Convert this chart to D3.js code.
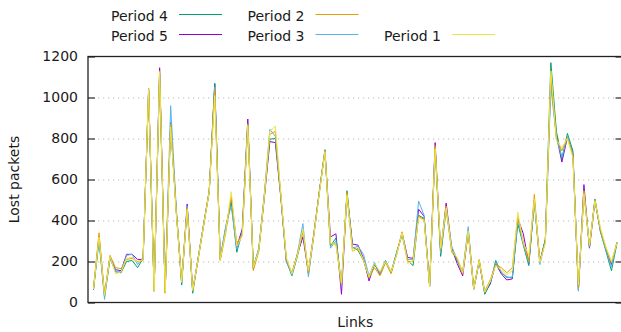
<!DOCTYPE html>
<html>
<head>
<meta charset="utf-8">
<script src="https://cdn.jsdelivr.net/npm/d3@7"></script>
<style>
    body { margin: 0; background: #fff; }
    svg text { font-family: "DejaVu Sans", sans-serif; font-size: 14px; fill: #1a1a1a; }
</style>
</head>
<body>
<div id="chart"></div>
<script>

// Values, one per link (links 1..96)
const period1 = [65, 320, 35, 225, 140, 150, 215, 220, 195, 210, 1040, 55, 1125, 50, 855, 440, 100, 455, 60, 215,
    380, 540, 1010, 210, 350, 540, 275, 325, 862, 170, 255, 520, 835, 860, 530, 220, 140, 230, 358, 155,
    330, 535, 735, 290, 280, 95, 525, 250, 270, 205, 125, 190, 150, 200, 150, 230, 340, 190, 205, 415,
    400, 80, 750, 265, 460, 255, 220, 145, 350, 65, 205, 50, 105, 180, 160, 135, 155, 440, 290, 230,
    505, 195, 290, 1130, 790, 755, 800, 705, 85, 530, 280, 495, 365, 270, 200, 290];
const period2 = [70, 340, 40, 230, 170, 165, 210, 215, 200, 205, 1045, 60, 1130, 45, 870, 450, 105, 460, 60, 210,
    375, 545, 1040, 205, 340, 520, 290, 330, 870, 155, 250, 515, 820, 835, 520, 210, 145, 235, 345, 145,
    335, 540, 740, 285, 285, 85, 535, 250, 265, 210, 120, 170, 130, 195, 140, 235, 345, 200, 200, 420,
    405, 80, 765, 255, 470, 245, 215, 140, 345, 70, 210, 55, 110, 185, 170, 145, 170, 420, 295, 200,
    528, 200, 295, 1110, 800, 740, 805, 715, 70, 545, 275, 500, 355, 265, 195, 295];
const period3 = [75, 310, 15, 220, 155, 150, 230, 235, 185, 220, 1035, 60, 1115, 55, 960, 470, 95, 470, 55, 220,
    385, 535, 1050, 215, 375, 470, 260, 340, 870, 175, 265, 530, 845, 810, 515, 200, 135, 240, 385, 125,
    335, 540, 745, 265, 300, 80, 530, 265, 275, 235, 130, 195, 140, 205, 150, 240, 335, 210, 210, 495,
    425, 85, 760, 240, 465, 275, 210, 150, 370, 70, 200, 50, 100, 195, 150, 120, 125, 405, 285, 195,
    490, 185, 300, 1050, 805, 710, 810, 720, 55, 540, 270, 505, 345, 255, 175, 295];
const period4 = [65, 300, 30, 215, 150, 145, 200, 205, 170, 215, 1030, 58, 1120, 55, 880, 450, 85, 465, 45, 220,
    380, 540, 1070, 215, 365, 490, 245, 345, 875, 170, 260, 525, 797, 800, 520, 205, 130, 225, 350, 140,
    330, 545, 745, 275, 315, 85, 545, 270, 255, 205, 120, 185, 145, 205, 145, 245, 330, 205, 180, 425,
    410, 80, 755, 225, 455, 260, 205, 145, 355, 65, 205, 40, 95, 205, 145, 125, 120, 385, 280, 180,
    495, 195, 310, 1170, 835, 700, 825, 740, 65, 545, 270, 505, 345, 250, 155, 290];
const period5 = [62, 325, 35, 225, 160, 155, 235, 235, 210, 210, 1040, 55, 1145, 50, 875, 455, 100, 480, 60, 215,
    385, 545, 1065, 210, 360, 510, 270, 360, 895, 165, 260, 510, 785, 780, 510, 200, 140, 235, 320, 150,
    340, 545, 735, 320, 335, 40, 530, 285, 280, 215, 105, 190, 135, 200, 145, 235, 340, 220, 215, 455,
    420, 80, 780, 245, 485, 265, 190, 130, 345, 65, 200, 45, 90, 190, 140, 110, 115, 410, 335, 190,
    500, 200, 305, 1090, 815, 685, 805, 725, 60, 575, 265, 495, 350, 260, 185, 290];

const yTicks = [0, 200, 400, 600, 800, 1000, 1200];

// drawing order (gnuplot plots them one after the other, Period 1 ends up on top)
const series = [
    { name: "Period 5", values: period5, color: "#9400d3" },
    { name: "Period 4", values: period4, color: "#009e73" },
    { name: "Period 3", values: period3, color: "#56b4e9" },
    { name: "Period 2", values: period2, color: "#e69f00" },
    { name: "Period 1", values: period1, color: "#f0e442" }
];

// legend is filled column by column, two rows per column (one empty slot)
const legendOrder = ["Period 4", "Period 5", "Period 2", "Period 3", null, "Period 1"];

const margin = { top: 56.5, right: -1.5, bottom: 29.5, left: 88 };
const totalWidth = 621, totalHeight = 332;
const width = totalWidth - margin.left - margin.right;
const height = totalHeight - margin.top - margin.bottom;

const svg = d3.select("#chart").append("svg")
    .attr("width", totalWidth)
    .attr("height", totalHeight)
    .style("display", "block");

const g = svg.append("g")
    .attr("transform", "translate(" + margin.left + "," + margin.top + ")");

const nLinks = period1.length;

const x = d3.scaleLinear()
    .domain([0, nLinks + 1])
    .range([0, width]);

const y = d3.scaleLinear()
    .domain([0, 1200])
    .range([height, 0]);

// dotted grid
g.append("g")
    .attr("class", "grid")
    .selectAll("line")
    .data(yTicks.filter(d => d > 0 && d < 1200))
    .enter().append("line")
    .attr("x1", 0)
    .attr("x2", width)
    .attr("y1", d => Math.round(y(d)) + 0.5)
    .attr("y2", d => Math.round(y(d)) + 0.5)
    .attr("stroke", "#b8b8b8")
    .attr("stroke-width", 1)
    .attr("stroke-dasharray", "1.2,3.8");

// left axis with labels, ticks pointing inwards
const yAxis = d3.axisLeft(y)
    .tickValues(yTicks)
    .tickFormat(d3.format("d"))
    .tickSize(-7)
    .tickPadding(10);

const yAxisG = g.append("g")
    .attr("class", "y-axis")
    .call(yAxis);
yAxisG.select(".domain").remove();
yAxisG.selectAll(".tick line").attr("stroke", "#555").attr("stroke-width", 1.5);

// mirrored ticks on the right
const yAxisRight = d3.axisRight(y)
    .tickValues(yTicks)
    .tickSize(-7)
    .tickFormat("");

const yRightG = g.append("g")
    .attr("transform", "translate(" + width + ",0)")
    .call(yAxisRight);
yRightG.select(".domain").remove();
yRightG.selectAll(".tick line").attr("stroke", "#555").attr("stroke-width", 1.5);

// lines
const line = d3.line()
    .x((d, i) => x(i + 1))
    .y(d => y(d));

g.selectAll(".series")
    .data(series)
    .enter().append("path")
    .attr("class", "series")
    .attr("fill", "none")
    .attr("stroke", d => d.color)
    .attr("stroke-width", 1)
    .attr("d", d => line(d.values));

// border
g.append("rect")
    .attr("x", 0)
    .attr("y", 0)
    .attr("width", width)
    .attr("height", height)
    .attr("fill", "none")
    .attr("stroke", "#222")
    .attr("stroke-width", 1.3);

// axis titles
svg.append("text")
    .attr("x", margin.left + width / 2)
    .attr("y", 327)
    .attr("text-anchor", "middle")
    .text("Links");

svg.append("text")
    .attr("transform", "translate(19," + (margin.top + height / 2) + ") rotate(-90)")
    .attr("text-anchor", "middle")
    .text("Lost packets");

// legend
const colorOf = {};
series.forEach(s => colorOf[s.name] = s.color);

const legendItems = svg.append("g")
    .attr("class", "legend")
    .selectAll(".legend-item")
    .data(legendOrder.map((name, i) => ({ name: name, slot: i })).filter(d => d.name))
    .enter().append("g")
    .attr("class", "legend-item")
    .attr("transform", d => "translate(" + (168 + Math.floor(d.slot / 2) * 136.5) + "," + (d.slot % 2) * 20 + ")");

legendItems.append("text")
    .attr("x", 0)
    .attr("y", 20.5)
    .attr("text-anchor", "end")
    .text(d => d.name);

legendItems.append("line")
    .attr("x1", 11)
    .attr("x2", 54)
    .attr("y1", 14.5)
    .attr("y2", 14.5)
    .attr("stroke", d => colorOf[d.name])
    .attr("stroke-width", 1);

</script>
</body>
</html>
